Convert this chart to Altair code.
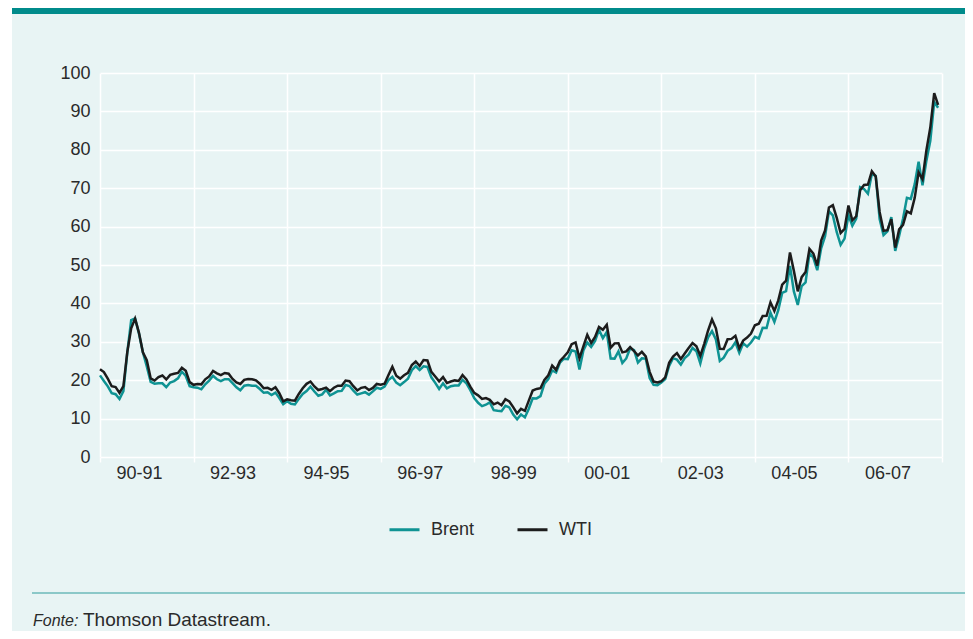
import altair as alt
import pandas as pd

start_year = 1990

# Monthly averages, Jan 1990 - Dec 2007 (USD / barrel)
brent = [
    21.25, 19.81, 18.39, 16.61, 16.35, 15.10, 17.17, 27.17, 35.65, 36.06, 32.13, 27.28,  # 1990
    23.57, 19.54, 19.08, 19.18, 19.19, 18.17, 19.40, 19.77, 20.50, 22.21, 21.11, 18.41,  # 1991
    18.16, 18.05, 17.63, 18.92, 19.89, 21.16, 20.24, 19.74, 20.27, 20.26, 19.25, 18.15,  # 1992
    17.37, 18.57, 18.74, 18.53, 18.55, 17.71, 16.72, 16.86, 16.14, 16.77, 15.36, 13.77,  # 1993
    14.52, 13.86, 13.69, 15.13, 16.43, 17.18, 18.29, 17.06, 15.95, 16.30, 17.51, 16.03,  # 1994
    16.56, 17.14, 17.21, 18.76, 18.49, 17.30, 16.26, 16.58, 16.87, 16.23, 17.09, 18.04,  # 1995
    17.75, 18.34, 20.02, 20.87, 19.36, 18.69, 19.51, 20.37, 22.60, 23.67, 22.63, 23.62,  # 1996
    23.45, 20.75, 19.31, 17.73, 19.17, 17.87, 18.42, 18.62, 18.60, 20.08, 19.16, 17.41,  # 1997
    15.36, 14.11, 13.24, 13.62, 14.23, 12.19, 12.05, 11.94, 13.32, 12.92, 11.06, 9.84,   # 1998
    11.10, 10.31, 12.56, 15.27, 15.26, 15.86, 19.07, 20.27, 22.53, 22.00, 24.59, 25.60,  # 1999
    25.50, 27.78, 27.49, 22.76, 27.74, 29.80, 28.68, 30.20, 33.14, 30.96, 32.55, 25.66,  # 2000
    25.62, 27.50, 24.50, 25.66, 28.31, 27.85, 24.61, 25.68, 25.62, 20.54, 18.80, 18.71,  # 2001
    19.42, 20.28, 23.70, 25.73, 25.35, 24.08, 25.74, 26.65, 28.40, 27.54, 24.34, 28.33,  # 2002
    31.18, 32.77, 30.61, 25.00, 25.86, 27.65, 28.35, 29.89, 27.11, 29.61, 28.75, 29.81,  # 2003
    31.28, 30.86, 33.63, 33.59, 37.57, 35.18, 38.22, 42.74, 43.20, 49.78, 43.11, 39.60,  # 2004
    44.51, 45.48, 53.10, 51.88, 48.65, 54.35, 57.52, 63.98, 62.91, 58.54, 55.24, 56.86,  # 2005
    62.99, 60.21, 62.06, 70.26, 69.78, 68.56, 73.67, 73.23, 61.96, 57.81, 58.76, 62.47,  # 2006
    53.68, 57.56, 62.05, 67.49, 67.21, 71.05, 76.93, 70.76, 77.17, 82.34, 92.41, 90.93,  # 2007
]

wti = [
    22.86, 22.11, 20.39, 18.43, 18.20, 16.70, 18.45, 27.31, 33.51, 36.04, 32.33, 27.28,  # 1990
    25.23, 20.48, 19.90, 20.83, 21.23, 20.19, 21.40, 21.69, 21.89, 23.23, 22.46, 19.50,  # 1991
    18.79, 19.01, 18.92, 20.23, 20.98, 22.39, 21.78, 21.34, 21.88, 21.69, 20.34, 19.41,  # 1992
    19.03, 20.09, 20.32, 20.25, 19.95, 19.09, 17.89, 18.01, 17.50, 18.15, 16.61, 14.52,  # 1993
    15.03, 14.78, 14.68, 16.42, 17.89, 19.06, 19.66, 18.38, 17.45, 17.72, 18.07, 17.16,  # 1994
    18.04, 18.57, 18.54, 19.90, 19.74, 18.45, 17.33, 18.02, 18.23, 17.43, 17.99, 19.03,  # 1995
    18.85, 19.09, 21.33, 23.50, 21.17, 20.42, 21.30, 21.90, 23.97, 24.88, 23.71, 25.23,  # 1996
    25.13, 22.18, 20.97, 19.70, 20.82, 19.26, 19.66, 19.95, 19.80, 21.33, 20.19, 18.33,  # 1997
    16.72, 16.06, 15.12, 15.35, 14.91, 13.72, 14.17, 13.47, 15.03, 14.46, 13.00, 11.35,  # 1998
    12.52, 12.01, 14.68, 17.31, 17.72, 17.92, 20.10, 21.28, 23.80, 22.69, 25.00, 26.10,  # 1999
    27.26, 29.37, 29.84, 25.72, 28.79, 31.82, 29.70, 31.26, 33.88, 33.11, 34.42, 28.44,  # 2000
    29.59, 29.61, 27.24, 27.49, 28.63, 27.60, 26.43, 27.37, 26.20, 22.17, 19.64, 19.39,  # 2001
    19.72, 20.72, 24.53, 26.18, 27.04, 25.52, 26.97, 28.39, 29.66, 28.84, 26.35, 29.46,  # 2002
    32.95, 35.83, 33.51, 28.17, 28.11, 30.66, 30.76, 31.57, 28.31, 30.34, 31.11, 32.13,  # 2003
    34.31, 34.69, 36.74, 36.75, 40.28, 38.03, 40.78, 44.90, 45.94, 53.28, 48.47, 43.15,  # 2004
    46.84, 48.15, 54.19, 52.98, 49.83, 56.35, 58.99, 64.98, 65.59, 62.26, 58.32, 59.41,  # 2005
    65.49, 61.63, 62.69, 69.44, 70.84, 70.95, 74.41, 73.04, 63.80, 58.89, 59.08, 61.96,  # 2006
    54.51, 59.28, 60.44, 63.98, 63.46, 67.49, 74.12, 72.36, 79.92, 85.80, 94.77, 91.69,  # 2007
]

series_names = ["Brent", "WTI"]
series_colors = ["#0f9393", "#1c1c1c"]
tick_labels = ["90-91", "92-93", "94-95", "96-97", "98-99", "00-01", "02-03", "04-05", "06-07"]
x_grid_years = list(range(1990, 2009, 2))
y_ticks = list(range(0, 101, 10))
source_label = "Fonte:"
source_text = "Thomson Datastream."

rows = []
for name, vals in zip(series_names, [brent, wti]):
    for i, v in enumerate(vals):
        rows.append({"t": start_year + i / 12.0, "serie": name, "valor": v})
df = pd.DataFrame(rows)

label_expr = ("[" + ",".join("'%s'" % s for s in tick_labels) + ",''][round((datum.value-%d)/2)]" % start_year)

W, H = 842, 384
PAD = {"left": 92, "top": 65, "right": 23, "bottom": 174}
BG = "#e8f4f4"
TEAL = "#008b8b"
TXT = "#2a2a2a"

lines = alt.Chart(df).mark_line(strokeWidth=2.5).encode(
    x=alt.X("t:Q",
            scale=alt.Scale(domain=[1990, 2008], nice=False, zero=False),
            axis=alt.Axis(values=x_grid_years, grid=True, gridColor="white", gridWidth=1.5,
                          ticks=True, tickColor="white", tickSize=5, tickWidth=1.5,
                          domain=False, labelExpr=label_expr, labelOffset=39,
                          labelPadding=2, labelFontSize=18, labelColor=TXT,
                          labelOverlap=False, labelFlush=False, title=None)),
    y=alt.Y("valor:Q",
            scale=alt.Scale(domain=[0, 100], nice=False),
            axis=alt.Axis(values=y_ticks, grid=True, gridColor="white", gridWidth=1.5,
                          ticks=False, domain=False, labelPadding=10, labelFontSize=18,
                          labelColor=TXT, title=None)),
    color=alt.Color("serie:N",
                    scale=alt.Scale(domain=series_names, range=series_colors),
                    legend=alt.Legend(orient="none", legendX=288, legendY=440,
                                      direction="horizontal", title=None,
                                      symbolType="stroke", symbolSize=900,
                                      symbolStrokeWidth=3, labelFontSize=18,
                                      labelColor=TXT, labelOffset=10,
                                      columnPadding=36, padding=0)),
)

deco = pd.DataFrame({"k": [0]})

band = alt.Chart(deco).mark_rect(color=TEAL).encode(
    x=alt.value(-92), x2=alt.value(W + PAD["right"]), y=alt.value(-65), y2=alt.value(-59))
strip = alt.Chart(deco).mark_rect(color="white").encode(
    x=alt.value(-92), x2=alt.value(-88), y=alt.value(-65), y2=alt.value(H + PAD["bottom"]))
sep = alt.Chart(deco).mark_rule(color="#2f9b9b", strokeWidth=1.2).encode(
    x=alt.value(-68), x2=alt.value(W + PAD["right"]), y=alt.value(520))
fonte1 = alt.Chart(deco).mark_text(text=source_label, fontStyle="italic", align="left",
                                   baseline="alphabetic", fontSize=16, color=TXT).encode(
    x=alt.value(-67), y=alt.value(553))
fonte2 = alt.Chart(deco).mark_text(text=source_text, align="left",
                                   baseline="alphabetic", fontSize=19, color=TXT).encode(
    x=alt.value(-17), y=alt.value(553))

chart = alt.layer(band, strip, sep, fonte1, fonte2, lines).properties(
    width=W, height=H, padding=PAD,
    autosize=alt.AutoSizeParams(type="none"),
    background=BG,
).configure_view(strokeWidth=0).configure(font="Liberation Sans")

chart.save("out.html", embed_options={"renderer": "svg", "actions": False})
